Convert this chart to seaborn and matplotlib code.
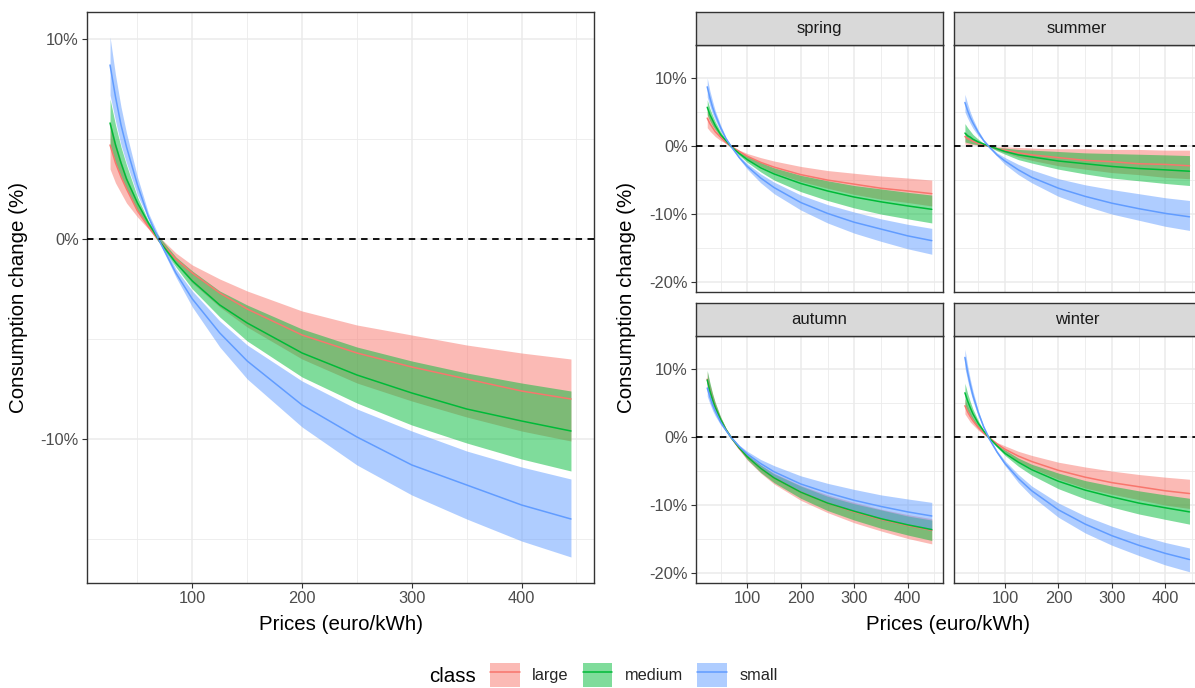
import matplotlib
matplotlib.use("Agg")
import matplotlib.pyplot as plt
import seaborn as sns
import pandas as pd
from matplotlib.patches import Patch
from matplotlib.lines import Line2D
from matplotlib.ticker import FuncFormatter
from matplotlib.legend_handler import HandlerTuple

# ---------------- data ----------------
price = [25, 30, 35, 40, 50, 60, 70, 85, 100, 125, 150, 200, 250, 300, 350, 400, 445]
classes = ["large", "medium", "small"]
seasons = ["spring", "summer", "autumn", "winter"]

# overall (left panel)
overall_large    = [4.7, 3.8, 3.1, 2.5, 1.4, 0.6, -0.1, -1.0, -1.7, -2.7, -3.5, -4.8, -5.7, -6.4, -7.0, -7.6, -8.0]
overall_large_hi = [5.9, 4.8, 3.9, 3.1, 1.8, 0.8, 0.1, -0.7, -1.3, -2.0, -2.6, -3.6, -4.3, -4.8, -5.3, -5.7, -6.0]
overall_large_lo = [3.5, 2.8, 2.3, 1.8, 1.1, 0.5, -0.2, -1.2, -2.2, -3.4, -4.4, -6.0, -7.2, -8.1, -8.9, -9.6, -10.1]
overall_medium    = [5.8, 4.7, 3.8, 3.0, 1.8, 0.8, -0.1, -1.2, -2.1, -3.3, -4.2, -5.7, -6.8, -7.7, -8.5, -9.1, -9.6]
overall_medium_hi = [7.0, 5.7, 4.6, 3.7, 2.1, 0.9, 0.1, -0.9, -1.6, -2.6, -3.3, -4.5, -5.4, -6.1, -6.7, -7.2, -7.6]
overall_medium_lo = [4.7, 3.8, 3.1, 2.5, 1.4, 0.6, -0.2, -1.4, -2.5, -3.9, -5.1, -6.9, -8.2, -9.3, -10.2, -11.0, -11.6]
overall_small    = [8.7, 7.1, 5.7, 4.6, 2.7, 1.1, -0.1, -1.7, -3.0, -4.7, -6.1, -8.3, -9.9, -11.3, -12.3, -13.3, -14.0]
overall_small_hi = [10.1, 8.2, 6.6, 5.3, 3.1, 1.3, 0.1, -1.5, -2.6, -4.1, -5.3, -7.1, -8.5, -9.6, -10.6, -11.4, -12.0]
overall_small_lo = [7.2, 5.9, 4.7, 3.8, 2.2, 1.0, -0.2, -1.9, -3.4, -5.4, -7.0, -9.4, -11.3, -12.8, -14.0, -15.1, -15.9]

# spring
spring_large    = [4.1, 3.3, 2.7, 2.1, 1.3, 0.5, -0.1, -0.8, -1.5, -2.4, -3.1, -4.2, -5.0, -5.6, -6.2, -6.6, -7.0]
spring_large_hi = [5.3, 4.3, 3.5, 2.8, 1.6, 0.7, 0.1, -0.6, -1.1, -1.7, -2.2, -3.0, -3.6, -4.0, -4.4, -4.7, -5.0]
spring_large_lo = [2.7, 2.2, 1.8, 1.4, 0.8, 0.4, -0.2, -1.1, -1.9, -3.0, -3.9, -5.2, -6.2, -7.1, -7.8, -8.3, -8.8]
spring_medium    = [5.7, 4.6, 3.8, 3.0, 1.7, 0.8, -0.1, -1.1, -2.0, -3.2, -4.1, -5.5, -6.6, -7.5, -8.2, -8.8, -9.3]
spring_medium_hi = [6.8, 5.5, 4.5, 3.6, 2.1, 0.9, 0.1, -0.9, -1.5, -2.4, -3.2, -4.3, -5.1, -5.8, -6.3, -6.8, -7.2]
spring_medium_lo = [4.6, 3.7, 3.0, 2.4, 1.4, 0.6, -0.2, -1.4, -2.4, -3.8, -5.0, -6.7, -8.0, -9.1, -10.0, -10.7, -11.3]
spring_small    = [8.7, 7.1, 5.7, 4.6, 2.7, 1.1, -0.1, -1.7, -3.0, -4.7, -6.1, -8.3, -9.9, -11.2, -12.2, -13.2, -13.9]
spring_small_hi = [10.0, 8.1, 6.6, 5.2, 3.1, 1.3, 0.1, -1.5, -2.6, -4.1, -5.3, -7.2, -8.6, -9.7, -10.7, -11.5, -12.1]
spring_small_lo = [7.2, 5.9, 4.7, 3.8, 2.2, 1.0, -0.2, -1.9, -3.4, -5.4, -7.0, -9.4, -11.3, -12.8, -14.0, -15.1, -15.9]

# summer
summer_large    = [1.4, 1.1, 0.9, 0.7, 0.4, 0.2, 0.0, -0.4, -0.6, -1.0, -1.3, -1.7, -2.1, -2.3, -2.6, -2.7, -2.9]
summer_large_hi = [2.1, 1.7, 1.4, 1.1, 0.6, 0.3, 0.1, -0.1, -0.1, -0.2, -0.3, -0.4, -0.4, -0.5, -0.5, -0.6, -0.6]
summer_large_lo = [0.3, 0.2, 0.2, 0.2, 0.1, 0.0, -0.1, -0.6, -1.0, -1.6, -2.1, -2.9, -3.4, -3.9, -4.2, -4.6, -4.8]
summer_medium    = [1.9, 1.5, 1.3, 1.0, 0.6, 0.3, 0.0, -0.4, -0.8, -1.3, -1.6, -2.2, -2.6, -3.0, -3.3, -3.5, -3.7]
summer_medium_hi = [3.3, 2.7, 2.2, 1.7, 1.0, 0.4, 0.1, -0.2, -0.3, -0.5, -0.6, -0.8, -1.0, -1.1, -1.2, -1.3, -1.4]
summer_medium_lo = [0.6, 0.5, 0.4, 0.3, 0.2, 0.1, -0.1, -0.7, -1.2, -2.0, -2.5, -3.4, -4.1, -4.7, -5.1, -5.5, -5.8]
summer_small    = [6.4, 5.2, 4.2, 3.4, 2.0, 0.8, -0.1, -1.3, -2.2, -3.5, -4.6, -6.2, -7.4, -8.4, -9.2, -9.9, -10.4]
summer_small_hi = [7.6, 6.2, 5.0, 4.0, 2.3, 1.0, 0.1, -1.0, -1.7, -2.7, -3.5, -4.8, -5.7, -6.4, -7.0, -7.6, -8.0]
summer_small_lo = [5.0, 4.1, 3.3, 2.6, 1.5, 0.7, -0.2, -1.5, -2.7, -4.2, -5.4, -7.4, -8.8, -10.0, -10.9, -11.8, -12.4]

# autumn
autumn_large    = [8.5, 6.9, 5.6, 4.5, 2.6, 1.1, -0.1, -1.7, -2.9, -4.6, -6.0, -8.1, -9.7, -11.0, -12.1, -13.0, -13.7]
autumn_large_hi = [9.6, 7.8, 6.3, 5.0, 2.9, 1.3, 0.1, -1.5, -2.6, -4.1, -5.3, -7.1, -8.5, -9.6, -10.6, -11.4, -12.0]
autumn_large_lo = [7.2, 5.9, 4.7, 3.8, 2.2, 1.0, -0.2, -1.9, -3.4, -5.3, -6.9, -9.3, -11.1, -12.6, -13.8, -14.9, -15.7]
autumn_medium    = [8.4, 6.8, 5.5, 4.4, 2.6, 1.1, -0.1, -1.6, -2.9, -4.6, -6.0, -8.1, -9.7, -10.9, -12.0, -12.9, -13.6]
autumn_medium_hi = [9.8, 8.0, 6.4, 5.1, 3.0, 1.3, 0.1, -1.5, -2.6, -4.1, -5.4, -7.2, -8.7, -9.8, -10.7, -11.6, -12.2]
autumn_medium_lo = [7.2, 5.9, 4.7, 3.8, 2.2, 1.0, -0.2, -1.8, -3.3, -5.2, -6.7, -9.0, -10.8, -12.2, -13.4, -14.4, -15.2]
autumn_small    = [7.2, 5.9, 4.7, 3.8, 2.2, 1.0, -0.1, -1.4, -2.5, -3.9, -5.1, -6.9, -8.2, -9.3, -10.2, -11.0, -11.6]
autumn_small_hi = [8.4, 6.8, 5.5, 4.4, 2.6, 1.1, 0.1, -1.2, -2.1, -3.3, -4.2, -5.7, -6.8, -7.7, -8.5, -9.1, -9.6]
autumn_small_lo = [6.0, 4.9, 3.9, 3.1, 1.8, 0.8, -0.2, -1.7, -2.9, -4.6, -6.0, -8.1, -9.7, -11.0, -12.1, -13.0, -13.7]

# winter
winter_large    = [4.6, 3.7, 3.0, 2.4, 1.4, 0.6, -0.1, -1.0, -1.8, -2.8, -3.6, -4.9, -5.9, -6.7, -7.3, -7.9, -8.3]
winter_large_hi = [5.6, 4.6, 3.7, 2.9, 1.7, 0.7, 0.1, -0.8, -1.3, -2.1, -2.7, -3.7, -4.4, -5.0, -5.5, -5.9, -6.2]
winter_large_lo = [3.4, 2.8, 2.2, 1.8, 1.0, 0.4, -0.2, -1.3, -2.2, -3.6, -4.6, -6.2, -7.5, -8.4, -9.2, -10.0, -10.5]
winter_medium    = [6.5, 5.3, 4.3, 3.4, 2.0, 0.9, -0.1, -1.3, -2.4, -3.7, -4.8, -6.5, -7.8, -8.8, -9.7, -10.4, -11.0]
winter_medium_hi = [7.9, 6.4, 5.2, 4.1, 2.4, 1.0, 0.1, -1.1, -1.9, -3.1, -4.0, -5.3, -6.4, -7.2, -7.9, -8.5, -9.0]
winter_medium_lo = [4.7, 3.8, 3.1, 2.5, 1.4, 0.6, -0.2, -1.5, -2.7, -4.3, -5.6, -7.6, -9.1, -10.3, -11.3, -12.1, -12.8]
winter_small    = [11.7, 9.5, 7.7, 6.1, 3.6, 1.5, -0.2, -2.2, -3.9, -6.1, -7.9, -10.7, -12.8, -14.5, -15.9, -17.1, -18.0]
winter_small_hi = [12.9, 10.5, 8.5, 6.8, 3.9, 1.7, 0.1, -2.0, -3.5, -5.5, -7.2, -9.7, -11.6, -13.1, -14.4, -15.5, -16.3]
winter_small_lo = [10.2, 8.3, 6.7, 5.3, 3.1, 1.3, -0.3, -2.4, -4.2, -6.7, -8.7, -11.8, -14.1, -15.9, -17.4, -18.8, -19.8]

# ---------------- build long table ----------------
series = {
    ("overall", "large"): (overall_large, overall_large_lo, overall_large_hi),
    ("overall", "medium"): (overall_medium, overall_medium_lo, overall_medium_hi),
    ("overall", "small"): (overall_small, overall_small_lo, overall_small_hi),
    ("spring", "large"): (spring_large, spring_large_lo, spring_large_hi),
    ("spring", "medium"): (spring_medium, spring_medium_lo, spring_medium_hi),
    ("spring", "small"): (spring_small, spring_small_lo, spring_small_hi),
    ("summer", "large"): (summer_large, summer_large_lo, summer_large_hi),
    ("summer", "medium"): (summer_medium, summer_medium_lo, summer_medium_hi),
    ("summer", "small"): (summer_small, summer_small_lo, summer_small_hi),
    ("autumn", "large"): (autumn_large, autumn_large_lo, autumn_large_hi),
    ("autumn", "medium"): (autumn_medium, autumn_medium_lo, autumn_medium_hi),
    ("autumn", "small"): (autumn_small, autumn_small_lo, autumn_small_hi),
    ("winter", "large"): (winter_large, winter_large_lo, winter_large_hi),
    ("winter", "medium"): (winter_medium, winter_medium_lo, winter_medium_hi),
    ("winter", "small"): (winter_small, winter_small_lo, winter_small_hi),
}
rows = []
for (panel, cls), (mid, lo, hi) in series.items():
    for p, m, l, h in zip(price, mid, lo, hi):
        rows.append({"panel": panel, "class": cls, "price": p, "mid": m, "lo": l, "hi": h})
df = pd.DataFrame(rows)

palette = {"large": "#F8766D", "medium": "#00BA38", "small": "#619CFF"}

# ---------------- style ----------------
sns.set_theme(style="white")
plt.rcParams["font.family"] = ["Liberation Sans", "DejaVu Sans"]

W, H = 1195, 688
fig = plt.figure(figsize=(W / 100, H / 100), dpi=100)


def box(x0, y0, x1, y1):
    return [x0 / W, 1 - y1 / H, (x1 - x0) / W, (y1 - y0) / H]


pct = FuncFormatter(lambda v, p: f"{int(round(v))}%")


def style(ax, ylim, ymaj, ymin, show_x=True, show_y=True):
    ax.set_xlim(4, 466)
    ax.set_ylim(*ylim)
    ax.set_xticks([100, 200, 300, 400])
    ax.set_xticks([50, 150, 250, 350, 450], minor=True)
    ax.set_yticks(ymaj)
    ax.set_yticks(ymin, minor=True)
    ax.yaxis.set_major_formatter(pct)
    ax.grid(True, which="major", color="#EBEBEB", lw=1.1)
    ax.grid(True, which="minor", color="#EBEBEB", lw=0.6)
    ax.set_axisbelow(True)
    ax.set_facecolor("white")
    for s in ax.spines.values():
        s.set_visible(True)
        s.set_color("#333333")
        s.set_linewidth(1.0)
    ax.tick_params(which="major", bottom=True, left=True, length=3.8, width=0.8,
                   color="#333333", labelsize=11.8, labelcolor="#4D4D4D", pad=2.2)
    ax.tick_params(which="minor", length=0, bottom=False, left=False)
    if not show_x:
        ax.tick_params(axis="x", which="major", bottom=False, labelbottom=False)
    if not show_y:
        ax.tick_params(axis="y", which="major", left=False, labelleft=False)
    ax.set_xlabel("")
    ax.set_ylabel("")


def draw(ax, panel):
    d = df[df["panel"] == panel]
    sns.lineplot(data=d, x="price", y="mid", hue="class", hue_order=classes,
                 palette=palette, linewidth=1.1, ax=ax, legend=False,
                 estimator=None, sort=True)
    for cls in classes:
        dc = d[d["class"] == cls]
        ax.fill_between(dc["price"], dc["lo"], dc["hi"], color=palette[cls],
                        alpha=0.5, lw=0)
    ax.axhline(0, color="black", lw=1.3, ls=(0, (3.6, 3.0)), zorder=6)


# left big panel
ax0 = fig.add_axes(box(87, 12, 594, 583))
draw(ax0, "overall")
style(ax0, (-17.2, 11.35), [-10, 0, 10], [-15, -5, 5])

# facets
fx = {"spring": (696, 943), "summer": (953.7, 1200.7),
      "autumn": (696, 943), "winter": (953.7, 1200.7)}
fy = {"spring": (12, 45, 292), "summer": (12, 45, 292),
      "autumn": (303, 336, 583), "winter": (303, 336, 583)}
for s in seasons:
    x0, x1 = fx[s]
    st, pt, pb = fy[s]
    ax = fig.add_axes(box(x0, pt, x1, pb))
    draw(ax, s)
    style(ax, (-21.45, 14.85), [-20, -10, 0, 10], [-15, -5, 5],
          show_x=s in ("autumn", "winter"), show_y=s in ("spring", "autumn"))
    sax = fig.add_axes(box(x0, st, x1, pt))
    sax.set_facecolor("#D9D9D9")
    sax.set_xticks([])
    sax.set_yticks([])
    for sp in sax.spines.values():
        sp.set_visible(True)
        sp.set_color("#333333")
        sp.set_linewidth(1.0)
    sax.text(0.5, 0.5, s, ha="center", va="center", fontsize=12,
             color="#1A1A1A", transform=sax.transAxes)

# axis titles
fig.text(19 / W, 1 - 297.5 / H, "Consumption change (%)", rotation=90,
         ha="center", va="center", fontsize=14.8, color="black")
fig.text(626 / W, 1 - 297.5 / H, "Consumption change (%)", rotation=90,
         ha="center", va="center", fontsize=14.8, color="black")
fig.text(340.5 / W, 1 - 624 / H, "Prices (euro/kWh)", ha="center", va="center",
         fontsize=14.8, color="black")
fig.text(948 / W, 1 - 624 / H, "Prices (euro/kWh)", ha="center", va="center",
         fontsize=14.8, color="black")

# legend
handles = [(Patch(facecolor=palette[c], alpha=0.5, edgecolor="none"),
            Line2D([], [], color=palette[c], lw=1.1)) for c in classes]
fig.legend(handles, classes, loc="center left",
           bbox_to_anchor=(490 / W, 1 - 675 / H), ncol=3, frameon=False,
           fontsize=11.8, handlelength=1.8, handleheight=1.9,
           handletextpad=0.78, columnspacing=0.85, borderpad=0,
           borderaxespad=0, handler_map={tuple: HandlerTuple(ndivide=1)})
fig.text(429 / W, 1 - 676 / H, "class", ha="left", va="center", fontsize=14.8,
         color="black")

fig.savefig("out.png", dpi=100)
